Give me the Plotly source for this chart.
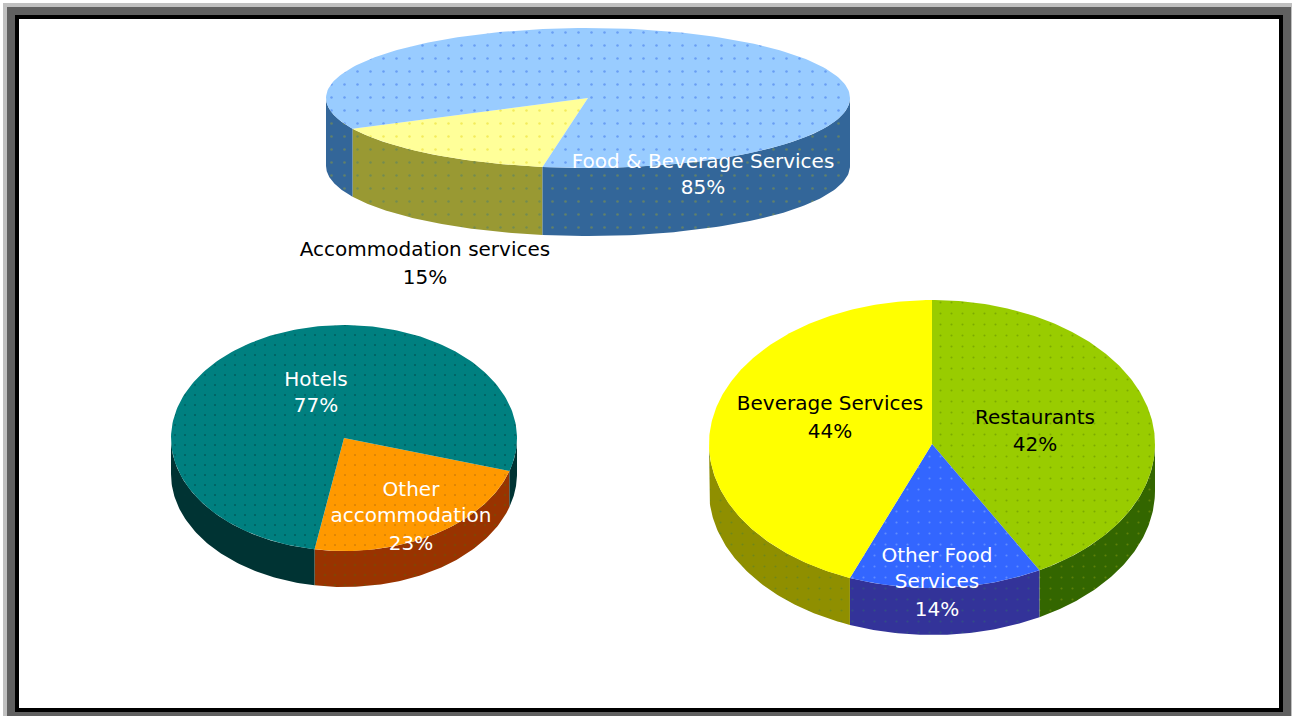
import numpy as np
import plotly.graph_objects as go

# --- data -------------------------------------------------------------
TOP_NAMES = ["Accommodation services", "Food & Beverage Services"]
TOP_VALUES = [15, 85]
LEFT_NAMES = ["Other accommodation", "Hotels"]
LEFT_VALUES = [23, 77]
RIGHT_NAMES = ["Restaurants", "Other Food Services", "Beverage Services"]
RIGHT_VALUES = [42, 14, 44]

# --- styling and geometry (pixel axes) ---------------------------------
W, H = 1292, 716
TOP_STYLE = dict(cx=588, cy=98, rx=262, ry=70, depth=68, start=100, size=13,
                 face=["#FFFF99", "#99CCFF"], side=["#999933", "#336699"],
                 dot=["#E8D820", "#3A6FE8"], sdot=["#4F7F6A", "#8E9A3A"])
LEFT_STYLE = dict(cx=344, cy=438, rx=173, ry=113, depth=36, start=17, size=10,
                  face=["#FF9900", "#008080"], side=["#993300", "#003333"],
                  dot=["#A86A10", "#023A3A"], sdot=["#4F6A10", "#003333"])
RIGHT_STYLE = dict(cx=932, cy=444, rx=223, ry=144, depth=47, start=-90, size=11,
                   face=["#99CC00", "#3366FF", "#FFFF00"],
                   side=["#336600", "#333399", "#8F8F00"],
                   dot=["#5E8A00", "#8FB4FF", "#FFFF00"],
                   sdot=["#8A9A10", "#2F6A70", "#4F8030"])

LABELS = [
    (703, [(163, "Food & Beverage Services"), (189, "85%")], "white"),
    (425, [(251, "Accommodation services"), (279, "15%")], "black"),
    (316, [(381, "Hotels"), (407, "77%")], "white"),
    (411, [(491, "Other"), (517, "accommodation"), (545, "23%")], "white"),
    (830, [(405, "Beverage Services"), (433, "44%")], "black"),
    (1035, [(419, "Restaurants"), (446, "42%")], "black"),
    (937, [(557, "Other Food"), (583, "Services"), (611, "14%")], "white"),
]

fig = go.Figure()


def poly(xs, ys, color, dot=None, size=13):
    kw = {}
    if dot:
        kw["fillpattern"] = dict(shape=".", fgcolor=dot, bgcolor=color,
                                 size=size, solidity=0.03)
    fig.add_trace(go.Scatter(x=xs, y=ys, mode="lines", fill="toself",
                             fillcolor=color, line=dict(width=0, color=color),
                             hoverinfo="skip", showlegend=False, **kw))


def pie3d(values, s):
    cx, cy, rx, ry, d = s["cx"], s["cy"], s["rx"], s["ry"], s["depth"]
    angles = s["start"] + np.cumsum([0] + [v * 3.6 for v in values])
    # walls first
    for i in range(len(values)):
        for k in (-360, 0, 360):
            lo, hi = max(angles[i] + k, 0), min(angles[i + 1] + k, 180)
            if lo < hi:
                t = np.radians(np.linspace(lo, hi, 80))
                x = cx + rx * np.cos(t)
                y = cy + ry * np.sin(t)
                poly(np.r_[x, x[::-1]], np.r_[y, y[::-1] + d],
                     s["side"][i], s["sdot"][i], s["size"])
    # then the top faces
    for i in range(len(values)):
        t = np.radians(np.linspace(angles[i], angles[i + 1], 200))
        poly(np.r_[cx, cx + rx * np.cos(t), cx],
             np.r_[cy, cy + ry * np.sin(t), cy],
             s["face"][i], s["dot"][i], s["size"])


pie3d(TOP_VALUES, TOP_STYLE)
pie3d(LEFT_VALUES, LEFT_STYLE)
pie3d(RIGHT_VALUES, RIGHT_STYLE)

for x, lines, color in LABELS:
    fig.add_trace(go.Scatter(
        x=[x] * len(lines), y=[l[0] for l in lines],
        text=[l[1] for l in lines], mode="text", textposition="middle center",
        textfont=dict(family="DejaVu Sans", size=20, color=color),
        hoverinfo="skip", showlegend=False))

# picture frame
shapes = []
for (x0, y0, x1, y1, c) in [
    (3, 3, 1292, 716, "#C0C0C0"),
    (7, 7, 1291, 716, "#606060"),
    (15, 15, 1283, 712, "#000000"),
    (19, 19, 1279, 708, "#FFFFFF"),
]:
    shapes.append(dict(type="rect", layer="below", x0=x0, y0=y0, x1=x1, y1=y1,
                       fillcolor=c, line=dict(width=0)))

fig.update_layout(
    width=W, height=H, margin=dict(l=0, r=0, t=0, b=0),
    paper_bgcolor="white", plot_bgcolor="white", shapes=shapes,
    xaxis=dict(range=[0, W], visible=False, fixedrange=True),
    yaxis=dict(range=[H, 0], visible=False, fixedrange=True),
)
fig.write_html("out.html", config=dict(displayModeBar=False),
               post_script="document.body.style.margin='0';document.body.style.overflow='hidden';")
